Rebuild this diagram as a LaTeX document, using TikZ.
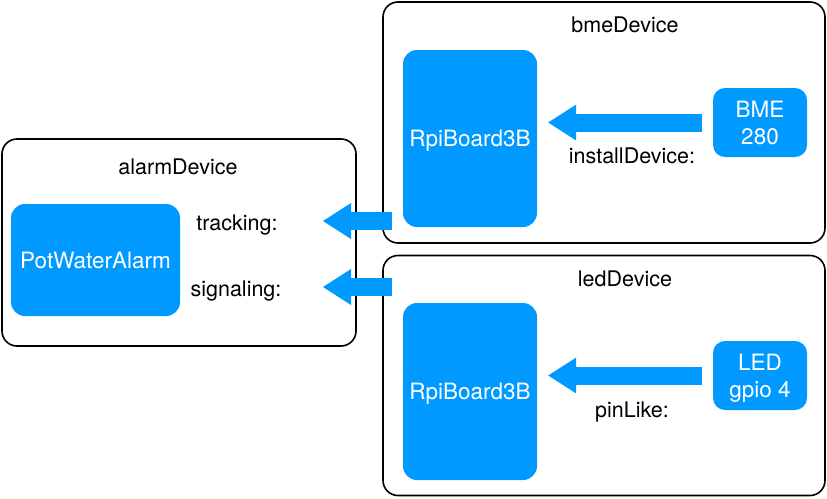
\documentclass[tikz,border=0pt]{standalone}
\usepackage{fontspec}
\setmainfont{TeX Gyre Heros}
\usetikzlibrary{arrows.meta,positioning}
\definecolor{boxblue}{HTML}{0099FF}
\tikzset{main base/.style={text centered,font=\fontsize{21.5}{27}\selectfont}, }
\tikzset{main node/.style={rectangle,fill=boxblue,text=white,rounded corners=14pt,text depth=0pt,main base,
    font=\fontsize{22.5}{27}\selectfont}, }
\tikzset{main node2/.style={main node,align=center,
    minimum width=94pt,minimum height=69pt,rounded corners=12pt}, }
\tikzset{main verb/.style={anchor=base,main base}, }
\tikzset{device/.style={rectangle,draw,line width=1.6pt,rounded corners=15pt}, }
\tikzset{linea/.style={-{Triangle[length=28pt,width=36pt,line width=0pt]},line width=18pt,line join=bevel,color=boxblue,draw}}

\begin{document}
\begin{tikzpicture}[x=1pt,y=-1pt]
  \useasboundingbox (0,0) rectangle (827,498);
  % alarmDevice
  \node[device,minimum width=354pt,minimum height=207pt] (1) at (179,242.5) {};
  \node[main verb] (2) at (178,174) {alarmDevice};
  \node[main node,minimum width=169pt,minimum height=112pt] (3) at (95.5,260) {PotWaterAlarm};
  \node[main verb] (4) at (237,230) {tracking:};
  \node[main verb] (5) at (236,296) {signaling:};
  % bmeDevice
  \node[device,minimum width=442pt,minimum height=241pt] (6) at (604,122.5) {};
  \node[main verb] (7) at (625,32) {bmeDevice};
  \node[main node,minimum width=134pt,minimum height=177pt] (8) at (470,138.5) {RpiBoard3B};
  \node[main node2] (9) at (760,122.5) {BME\\280};
  \node[main verb] (10) at (632,163) {installDevice:};
  % ledDevice
  \node[device,minimum width=442pt,minimum height=240pt] (11) at (604,375.5) {};
  \node[main verb] (12) at (625,286) {ledDevice};
  \node[main node,minimum width=134pt,minimum height=177pt] (13) at (470,391.5) {RpiBoard3B};
  \node[main node2] (14) at (760,375.5) {LED\\gpio 4};
  \node[main verb] (15) at (632,417) {pinLike:};
  %
  \coordinate (16) at (392,221);
  \coordinate (17) at (323,221);
  \coordinate (18) at (392,287);
  \coordinate (19) at (323,287);
\foreach \x /\y in{9/8,14/13}
  \draw[linea,shorten <=11pt,shorten >=11pt] (\x.west) -- (\x.west -| \y.east);
\foreach \x /\y in{16/17,18/19}
  \draw[linea] (\x) -- (\y);
%
\end{tikzpicture}
\end{document}
